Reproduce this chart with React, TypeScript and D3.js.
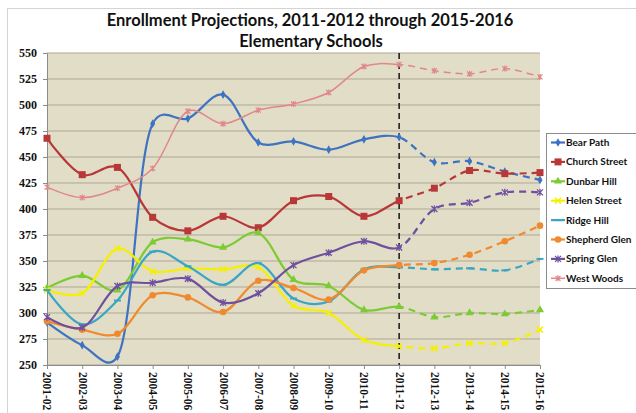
import * as d3 from "d3";
import React, {useEffect, useRef} from "react";

// school years on the x axis
const years = ["2001-02", "2002-03", "2003-04", "2004-05", "2005-06", "2006-07", "2007-08",
    "2008-09", "2009-10", "2010-11", "2011-12", "2012-13", "2013-14", "2014-15", "2015-16"];

const yTicks = [250, 275, 300, 325, 350, 375, 400, 425, 450, 475, 500, 525, 550];

// enrollment by school
const bearPath = [291, 269, 258, 482, 487, 510, 464, 465, 457, 467, 469, 445, 446, 436, 428];
const churchStreet = [468, 433, 440, 392, 379, 393, 382, 408, 412, 393, 408, 420, 437, 434, 435];
const dunbarHill = [324, 336, 322, 368, 371, 363, 377, 332, 326, 303, 306, 296, 300, 299, 303];
const helenStreet = [322, 319, 362, 340, 343, 342, 344, 307, 300, 274, 268, 266, 271, 271, 284];
const ridgeHill = [322, 289, 312, 359, 345, 327, 348, 314, 311, 342, 344, 342, 343, 341, 352];
const shepherdGlen = [292, 284, 280, 317, 315, 301, 331, 324, 313, 341, 346, 348, 356, 369, 384];
const springGlen = [296, 286, 326, 329, 333, 310, 319, 346, 358, 369, 363, 400, 406, 416, 416];
const westWoods = [421, 411, 420, 439, 494, 482, 495, 501, 512, 537, 539, 533, 530, 535, 527];

const projectionStart = "2011-12";

const schools = [
    {name: "Bear Path", values: bearPath, color: "#3E73C2", marker: "diamond", w: 2.2},
    {name: "Church Street", values: churchStreet, color: "#B8383A", marker: "square", w: 2.2},
    {name: "Dunbar Hill", values: dunbarHill, color: "#7CCB34", marker: "triangle", w: 2.2},
    {name: "Helen Street", values: helenStreet, color: "#F5F000", marker: "x", w: 2.2},
    {name: "Ridge Hill", values: ridgeHill, color: "#3AA6C4", marker: "dash", w: 2.2},
    {name: "Shepherd Glen", values: shepherdGlen, color: "#F08A2E", marker: "circle", w: 2.2},
    {name: "Spring Glen", values: springGlen, color: "#6E4FA0", marker: "star", w: 2.2},
    {name: "West Woods", values: westWoods, color: "#E0878A", marker: "plus", w: 1.5},
];

const W = 636, H = 413;
const margin = {left: 47, right: 96, top: 53, bottom: 48};

function drawMarker(g, type, color, x, y) {
    const m = g.append("g").attr("transform", `translate(${x},${y})`);
    if (type === "diamond") {
        m.append("path").attr("d", d3.symbol(d3.symbolDiamond, 22)()).attr("fill", color);
    } else if (type === "square") {
        m.append("rect").attr("x", -3.5).attr("y", -3.5).attr("width", 7).attr("height", 7).attr("fill", color);
    } else if (type === "triangle") {
        m.append("path").attr("d", d3.symbol(d3.symbolTriangle, 28)()).attr("fill", color);
    } else if (type === "circle") {
        m.append("circle").attr("r", 3.3).attr("fill", color);
    } else if (type === "x") {
        m.append("path").attr("d", "M-3,-3L3,3M-3,3L3,-3").attr("stroke", color).attr("stroke-width", 1.5);
    } else if (type === "dash") {
        m.append("path").attr("d", "M-3.5,0L3.5,0").attr("stroke", color).attr("stroke-width", 2);
    } else if (type === "star") {
        m.append("path").attr("d", "M-3,-3L3,3M-3,3L3,-3M0,-3.5L0,3.5").attr("stroke", color).attr("stroke-width", 1.3);
    } else {
        m.append("path").attr("d", "M-2.5,-2.5L2.5,2.5M-2.5,2.5L2.5,-2.5M0,-3L0,3").attr("stroke", color).attr("stroke-width", 1.2);
    }
}

const App = () => {
    const svgRef = useRef(null);

    useEffect(() => {
        const svgEl = d3.select(svgRef.current);
        svgEl.selectAll("*").remove();

        const width = W - margin.left - margin.right;
        const height = H - margin.top - margin.bottom;

        const xScale = d3.scalePoint().domain(years).range([0, width]);
        const yScale = d3.scaleLinear().domain([250, 550]).range([height, 0]);

        // chart border
        svgEl.append("rect").attr("x", 7.5).attr("y", 8.5).attr("width", 640).attr("height", 420)
            .attr("fill", "white").attr("stroke", "#d4d4d4");

        // title
        const title = svgEl.append("text").attr("text-anchor", "middle")
            .attr("font-family", "Lato, sans-serif").attr("font-weight", "bold").attr("font-size", 16.5).attr("fill", "#111");
        title.append("tspan").attr("x", 310).attr("y", 26).text("Enrollment Projections, 2011-2012 through 2015-2016");
        title.append("tspan").attr("x", 311).attr("y", 47).text("Elementary Schools");

        const svg = svgEl.append("g").attr("transform", `translate(${margin.left},${margin.top})`);

        const defs = svgEl.append("defs");
        const xp = xScale(projectionStart);
        defs.append("clipPath").attr("id", "solidClip").append("rect")
            .attr("x", -10).attr("y", -20).attr("width", xp + 10).attr("height", height + 40);
        defs.append("clipPath").attr("id", "dashClip").append("rect")
            .attr("x", xp).attr("y", -20).attr("width", width - xp + 20).attr("height", height + 40);

        svg.append("rect").attr("width", width).attr("height", height).attr("fill", "#E2DDC6");

        // gridlines
        svg.append("g").selectAll("line").data(yTicks).enter().append("line")
            .attr("x1", 0).attr("x2", width)
            .attr("y1", d => yScale(d)).attr("y2", d => yScale(d))
            .attr("stroke", "#ADA795").attr("stroke-width", 1);

        // axes
        const yAxis = svg.append("g").call(d3.axisLeft(yScale).tickValues(yTicks).tickSize(4).tickPadding(6));
        yAxis.select(".domain").attr("stroke", "#8c8c8c");
        yAxis.selectAll(".tick line").attr("stroke", "#8c8c8c");
        yAxis.selectAll("text").attr("font-family", "'Liberation Serif', serif").attr("font-weight", "bold")
            .attr("font-size", 12).attr("fill", "#111");

        const xAxis = svg.append("g").attr("transform", `translate(0,${height})`)
            .call(d3.axisBottom(xScale).tickSize(4).tickPadding(5));
        xAxis.select(".domain").attr("stroke", "#8c8c8c");
        xAxis.selectAll(".tick line").attr("stroke", "#8c8c8c");
        xAxis.selectAll("text")
            .attr("font-family", "'Liberation Serif', serif").attr("font-weight", "bold")
            .attr("font-size", 11.5).attr("fill", "#111")
            .attr("text-anchor", "start").attr("transform", "rotate(90)")
            .attr("x", 7).attr("y", 0).attr("dy", "0.35em");

        // projection divider
        svg.append("line").attr("x1", xp).attr("x2", xp).attr("y1", 0).attr("y2", height)
            .attr("stroke", "#222").attr("stroke-width", 1.6).attr("stroke-dasharray", "6,4");

        const line = d3.line()
            .x((d, i) => xScale(years[i]))
            .y(d => yScale(d))
            .curve(d3.curveCatmullRom.alpha(0.25));

        schools.forEach(s => {
            const g = svg.append("g");
            g.append("path").attr("d", line(s.values)).attr("fill", "none")
                .attr("stroke", s.color).attr("stroke-width", s.w).attr("clip-path", "url(#solidClip)");
            g.append("path").attr("d", line(s.values)).attr("fill", "none")
                .attr("stroke", s.color).attr("stroke-width", s.w).attr("stroke-dasharray", "7,5")
                .attr("clip-path", "url(#dashClip)");
            s.values.forEach((v, i) => drawMarker(g, s.marker, s.color, xScale(years[i]), yScale(v)));
        });

        // legend
        const lg = svgEl.append("g").attr("transform", "translate(546,133)");
        lg.append("rect").attr("x", 0.5).attr("y", 0.5).attr("width", 100).attr("height", 155)
            .attr("fill", "white").attr("stroke", "#8c8c8c");
        schools.forEach((s, i) => {
            const y = 9.5 + i * 19.4;
            lg.append("line").attr("x1", 5).attr("x2", 19).attr("y1", y).attr("y2", y)
                .attr("stroke", s.color).attr("stroke-width", s.w);
            drawMarker(lg, s.marker, s.color, 12, y);
            lg.append("text").attr("x", 20).attr("y", y).attr("dy", "0.35em")
                .attr("font-family", "Lato, sans-serif").attr("font-weight", "bold").attr("font-size", 10)
                .attr("fill", "#111").text(s.name);
        });
    }, []);

    return (
        <svg ref={svgRef} width={W} height={H}
             style={{position: "absolute", left: 0, top: 0, background: "white"}}/>
    );
};

export default App;
